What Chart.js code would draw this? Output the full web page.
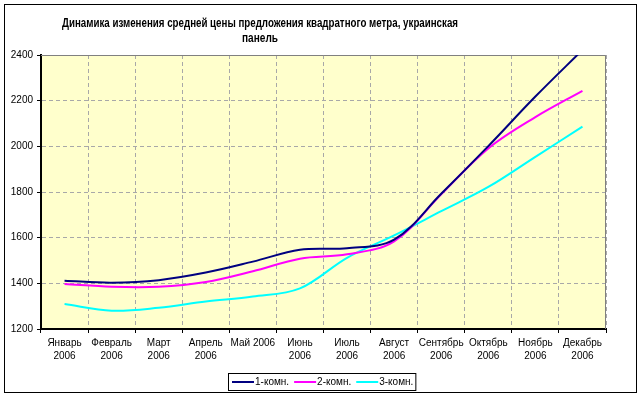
<!DOCTYPE html>
<html>
<head>
  <title>Динамика изменения средней цены</title>
  <style>
    body {
      margin: 0;
      padding: 0;
      background: #ffffff;
    }
    .wrap {
      width: 643px;
      height: 397px;
    }
  </style>
</head>
<body>
  <div class="wrap">
    <canvas id="chart" width="643" height="397"></canvas>
  </div>

  <script src="https://cdn.jsdelivr.net/npm/chart.js"></script>
  <script>
    const titleLines = ['Динамика изменения средней цены предложения квадратного метра, украинская', 'панель'];
    const months = [
      ['Январь', '2006'], ['Февраль', '2006'], ['Март', '2006'], ['Апрель', '2006'],
      'Май 2006', ['Июнь', '2006'], ['Июль', '2006'], ['Август', '2006'],
      ['Сентябрь', '2006'], ['Октябрь', '2006'], ['Ноябрь', '2006'], ['Декабрь', '2006']
    ];
    const seriesNames = ['1-комн.', '2-комн.', '3-комн.'];
    const oneRoom = [1411, 1403, 1414, 1447, 1495, 1547, 1554, 1591, 1792, 2001, 2218, 2422];
    const twoRoom = [1397, 1385, 1385, 1406, 1453, 1508, 1527, 1584, 1790, 1991, 2128, 2243];
    const threeRoom = [1309, 1280, 1293, 1320, 1342, 1378, 1512, 1610, 1716, 1822, 1954, 2086];
    const yTicks = [1200, 1400, 1600, 1800, 2000, 2200, 2400];
    const colors = ['#000080', '#ff00ff', '#00ffff'];

    const font = "'Liberation Sans', Arial, sans-serif";

    // frame, plot background, title and boxed legend (Excel look)
    const excelLook = {
      id: 'excelLook',
      beforeDraw(chart) {
        const { ctx, chartArea: a } = chart;
        ctx.save();
        ctx.fillStyle = '#ffffff';
        ctx.fillRect(0, 0, chart.width, chart.height);
        ctx.strokeStyle = '#000000';
        ctx.lineWidth = 1;
        ctx.strokeRect(4.5, 4.5, 632, 388);
        ctx.fillStyle = '#ffffcc';
        ctx.fillRect(a.left, a.top, a.right - a.left, a.bottom - a.top);

        ctx.fillStyle = '#000000';
        ctx.font = 'bold 12px ' + font;
        ctx.textAlign = 'center';
        ctx.textBaseline = 'middle';
        ctx.fillText(titleLines[0], 260, 24, 396);
        ctx.fillText(titleLines[1], 260, 39, 36);
        ctx.restore();
      },
      beforeDatasetsDraw(chart) {
        const { ctx, chartArea: a } = chart;
        ctx.save();
        ctx.strokeStyle = '#808080';
        ctx.lineWidth = 1;
        ctx.beginPath();
        ctx.moveTo(a.left, a.top + 0.5);
        ctx.lineTo(a.right - 0.5, a.top + 0.5);
        ctx.lineTo(a.right - 0.5, a.bottom);
        ctx.stroke();
        ctx.restore();
      },
      afterDraw(chart) {
        const { ctx } = chart;
        ctx.save();
        ctx.font = '10px ' + font;
        ctx.textBaseline = 'middle';
        ctx.textAlign = 'left';
        const lineLen = 22, gapText = 1, gapItem = 5;
        const widths = chart.data.datasets.map(d => lineLen + gapText + ctx.measureText(d.label).width);
        const total = widths.reduce((s, w) => s + w, 0) + gapItem * (widths.length - 1);
        let x = Math.round(323 - total / 2);
        const y = 382;
        ctx.strokeStyle = '#000000';
        ctx.lineWidth = 1;
        ctx.strokeRect(x - 3.5, 373.5, total + 6, 17);
        chart.data.datasets.forEach((d, i) => {
          ctx.strokeStyle = d.borderColor;
          ctx.lineWidth = 2;
          ctx.beginPath();
          ctx.moveTo(x, y);
          ctx.lineTo(x + lineLen, y);
          ctx.stroke();
          ctx.fillStyle = '#000000';
          ctx.fillText(d.label, x + lineLen + gapText, y);
          x += widths[i] + gapItem;
        });
        ctx.restore();
      }
    };

    const ctx = document.getElementById('chart').getContext('2d');
    new Chart(ctx, {
      type: 'line',
      data: {
        labels: months,
        datasets: [oneRoom, twoRoom, threeRoom].map((vals, i) => ({
          label: seriesNames[i],
          data: vals,
          borderColor: colors[i],
          backgroundColor: colors[i],
          borderWidth: 2,
          pointRadius: 0,
          tension: 0.35,
          fill: false
        }))
      },
      options: {
        responsive: false,
        animation: false,
        layout: { padding: { left: 4, right: 37, top: 55, bottom: 28 } },
        plugins: {
          legend: { display: false },
          title: { display: false },
          tooltip: { enabled: false }
        },
        scales: {
          x: {
            offset: true,
            afterFit: s => { s.height = 40; },
            grid: { offset: true, color: '#a8a8a8', tickColor: '#000000', tickLength: 4, tickWidth: 1 },
            border: { color: '#000000', width: 2, dash: [4, 3] },
            ticks: {
              color: '#000000',
              padding: 4,
              maxRotation: 0,
              autoSkip: false,
              font: { family: font, size: 10, lineHeight: 1.3 }
            }
          },
          y: {
            min: yTicks[0],
            max: yTicks[yTicks.length - 1],
            afterFit: s => { s.width = 37; },
            afterBuildTicks: s => { s.ticks = yTicks.map(v => ({ value: v })); },
            grid: { color: '#a8a8a8', tickColor: '#000000', tickLength: 4, tickWidth: 1 },
            border: { color: '#000000', width: 2, dash: [4, 3] },
            ticks: {
              color: '#000000',
              padding: 4,
              callback: v => String(v),
              font: { family: font, size: 10 }
            }
          }
        }
      },
      plugins: [excelLook]
    });
  </script>
</body>
</html>
